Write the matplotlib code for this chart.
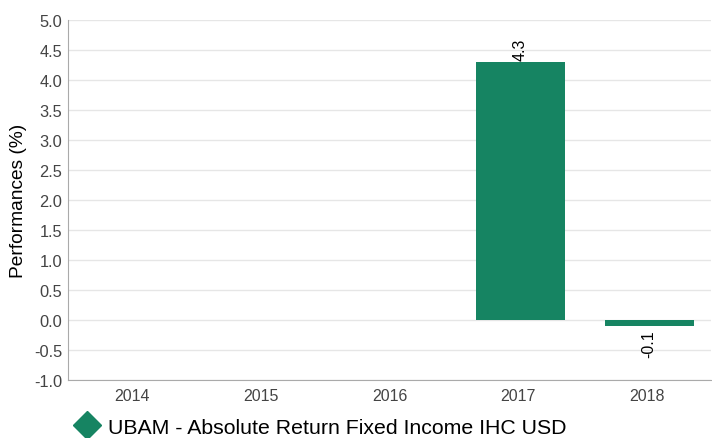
import matplotlib
matplotlib.use("Agg")
import matplotlib.pyplot as plt
from matplotlib.lines import Line2D
import numpy as np

plt.rcParams['font.family'] = ['Liberation Sans', 'DejaVu Sans']

years = ['2014', '2015', '2016', '2017', '2018']
perf = [np.nan, np.nan, np.nan, 4.3, -0.1]
series_name = 'UBAM - Absolute Return Fixed Income IHC USD'
bar_color = '#168462'

fig = plt.figure(figsize=(7.12, 4.39), dpi=100)
ax = fig.add_axes([0.0955, 0.1321, 0.903, 0.8199])

x = np.arange(len(years))
vals = np.array(perf, dtype=float)
bars = ax.bar(x + 0.02, np.nan_to_num(vals), width=0.69, color=bar_color, zorder=3)
for xi, v in zip(x, vals):
    if np.isnan(v):
        continue
    if v >= 0:
        ax.text(xi + 0.02, v + 0.04, f'{v:.1f}', rotation=90, ha='center', va='bottom',
                fontsize=11.5, color='black')
    else:
        ax.text(xi + 0.02, v - 0.05, f'{v:.1f}', rotation=90, ha='center', va='top',
                fontsize=11.5, color='black')

ax.set_xlim(-0.5, len(years) - 0.5)
ax.set_ylim(-1.0, 5.0)
ax.set_yticks(np.arange(-1.0, 5.01, 0.5))
ax.set_yticklabels([f'{t:.1f}' for t in np.arange(-1.0, 5.01, 0.5)])
ax.set_xticks(x)
ax.set_xticklabels(years)
ax.tick_params(axis='y', length=0, labelsize=11.8, colors='#444444', pad=4)
ax.tick_params(axis='x', length=0, labelsize=11.5, colors='#444444', pad=6)
ax.yaxis.grid(True, color='#e6e6e6', linewidth=1, zorder=0)
ax.set_axisbelow(True)
for s in ['top', 'right']:
    ax.spines[s].set_visible(False)
ax.spines['left'].set_color('#aaaaaa')
ax.spines['bottom'].set_color('#aaaaaa')
ax.set_ylabel('Performances (%)', fontsize=13.8, color='black', labelpad=5)

handle = Line2D([], [], marker='D', linestyle='none', markersize=14,
                markerfacecolor=bar_color, markeredgecolor=bar_color)
fig.legend([handle], [series_name], loc='center left',
           bbox_to_anchor=(0.093, 0.025), frameon=False, fontsize=15.3,
           handletextpad=0.45, borderpad=0, handlelength=1.0)

fig.savefig('out.png', dpi=100)
